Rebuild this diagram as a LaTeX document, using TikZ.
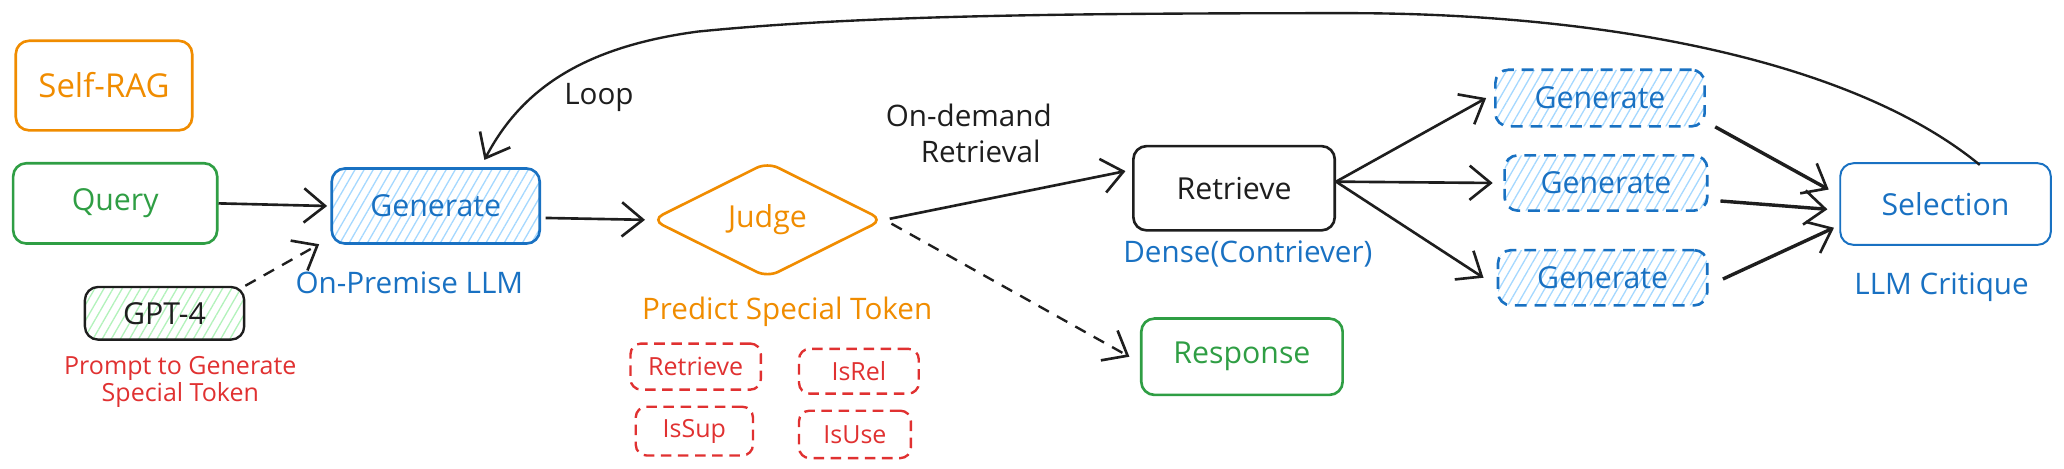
\documentclass[tikz,border=0pt]{standalone}
\usepackage{fontspec}
\setmainfont{Open Sans}
\usetikzlibrary{arrows.meta,patterns.meta,shapes.geometric}
\definecolor{xorange}{HTML}{F08C00}
\definecolor{xgreen}{HTML}{2F9E44}
\definecolor{xblue}{HTML}{1971C2}
\definecolor{xred}{HTML}{E03131}
\definecolor{xblack}{HTML}{1E1E1E}
\definecolor{xhblue}{HTML}{A5D8FF}
\definecolor{xhgreen}{HTML}{B2F2BB}
\tikzset{
  box/.style={draw, rounded corners=10pt, line width=2pt, inner sep=0pt,
    font=\fontsize{23}{27}\selectfont},
  hatchblue/.style={pattern={Lines[angle=60,distance=6pt,line width=1pt]}, pattern color=xhblue},
  hatchgreen/.style={pattern={Lines[angle=60,distance=6pt,line width=1pt]}, pattern color=xhgreen},
  genbox/.style={box, draw=xblue, text=xblue, hatchblue, dash pattern=on 9pt off 6pt},
  redbox/.style={draw=xred, text=xred, rounded corners=8pt, line width=1.8pt, inner sep=0pt,
    dash pattern=on 8pt off 5pt, font=\fontsize{19}{22}\selectfont},
  lbl/.style={font=\fontsize{22.5}{26}\selectfont, inner sep=0pt},
  arr/.style={draw=xblack, line width=2pt, -{Straight Barb[length=16pt,width=26pt,line width=2pt]}},
  darr/.style={arr, line width=1.8pt, dash pattern=on 9pt off 7pt},
}
\begin{document}
\begin{tikzpicture}[x=1pt,y=-1pt]
\useasboundingbox (0,0) rectangle (1568,356);
% nodes
\node[box, draw=xorange, text=xorange, minimum width=134pt, minimum height=68pt,
  font=\fontsize{25}{29}\selectfont] (selfrag) at (79,65) {Self-RAG};
\node[box, draw=xgreen, text=xgreen, minimum width=155pt, minimum height=61pt] (query) at (87.5,154.5) {Query};
\node[box, draw=xblue, text=xblue, hatchblue, minimum width=158pt, minimum height=57pt] (gen) at (331,156.5) {Generate};
\node[lbl, text=xblue] (onprem) at (311,215) {On-Premise LLM};
\node[box, draw=xblack, text=xblack, hatchgreen, minimum width=121pt, minimum height=40pt, line width=1.8pt] (gpt) at (125,238) {GPT-4};
\node[lbl, text=xred, font=\fontsize{19}{22}\selectfont] (prompt) at (137,280) {Prompt to Generate};
\node[lbl, text=xred, font=\fontsize{19}{22}\selectfont] (prompt2) at (137,300) {Special Token};
\node[diamond, draw=xorange, text=xorange, line width=2pt, rounded corners=9pt,
  minimum width=176pt, minimum height=88pt, inner sep=0pt, font=\fontsize{23}{27}\selectfont] (judge) at (583,167) {Judge};
\node[lbl, text=xorange] (predict) at (598,237) {Predict Special Token};
\node[redbox, minimum width=99pt, minimum height=35pt] (rRet) at (528.5,278.5) {Retrieve};
\node[redbox, minimum width=91pt, minimum height=34pt] (rRel) at (652.5,282) {IsRel};
\node[redbox, minimum width=89pt, minimum height=37pt] (rSup) at (527.5,327.5) {IsSup};
\node[redbox, minimum width=85pt, minimum height=36pt] (rUse) at (649.5,330) {IsUse};
\node[lbl, text=xblack] (ondemand) at (736,88) {On-demand};
\node[lbl, text=xblack] (retrieval) at (745,115) {Retrieval};
\node[box, draw=xblack, text=xblack, minimum width=153pt, minimum height=64pt] (ret) at (937.5,143) {Retrieve};
\node[lbl, text=xblue] (dense) at (948,193) {Dense(Contriever)};
\node[box, draw=xgreen, text=xgreen, minimum width=153pt, minimum height=58pt] (resp) at (943.5,271) {Response};
\node[genbox, minimum width=159pt, minimum height=43pt] (g1) at (1215.5,74.5) {Generate};
\node[genbox, minimum width=154pt, minimum height=42pt] (g2) at (1220,139) {Generate};
\node[genbox, minimum width=159pt, minimum height=42pt] (g3) at (1217.5,211) {Generate};
\node[box, draw=xblue, text=xblue, line width=1.5pt, minimum width=160pt, minimum height=62pt] (sel) at (1478,155) {Selection};
\node[lbl, text=xblue] (critique) at (1475,218) {LLM Critique};
\node[lbl, text=xblack] (looplbl) at (455,74) {Loop};
% connectors
\draw[arr] (query.east) -- ([xshift=-3pt]gen.west);
\draw[darr] (gpt.north east) -- ([xshift=-9pt]gen.south west);
\draw[arr, shorten <=4pt] ([yshift=-9pt]gen.east) -- ([xshift=-4pt]judge.west);
\draw[arr, shorten <=4pt] (judge.east) -- ([xshift=-5pt,yshift=13pt]ret.west);
\draw[darr, shorten <=6pt] (judge.east) -- ([xshift=-8pt]resp.west);
\coordinate (retout) at ([yshift=5pt]ret.east);
\draw[arr] (retout) -- ([xshift=-6pt]g1.west);
\draw[arr] (retout) -- ([xshift=-8pt]g2.west);
\draw[arr] (retout) -- ([xshift=-10pt]g3.west);
\draw[arr, line width=2.6pt, shorten <=8pt] ([yshift=-18pt]g1.east) -- ([xshift=-8pt,yshift=11pt]sel.west);
\draw[arr, line width=2.6pt, shorten <=9pt] ([yshift=-13pt]g2.east) -- ([xshift=-9pt,yshift=-4pt]sel.west);
\draw[arr, line width=2.6pt, shorten <=12pt] ([yshift=-6pt]g3.east) -- ([xshift=-4pt,yshift=-18pt]sel.west);
\draw[arr, line width=1.8pt] ([xshift=26pt,yshift=-2pt]sel.north)
  .. controls (1400,40) and (1200,10) .. (1025,10)
  .. controls (800,10) and (650,12) .. (530,24)
  .. controls (440,36) and (395,70) .. ([xshift=37pt,yshift=6pt]gen.north);
\end{tikzpicture}
\end{document}
